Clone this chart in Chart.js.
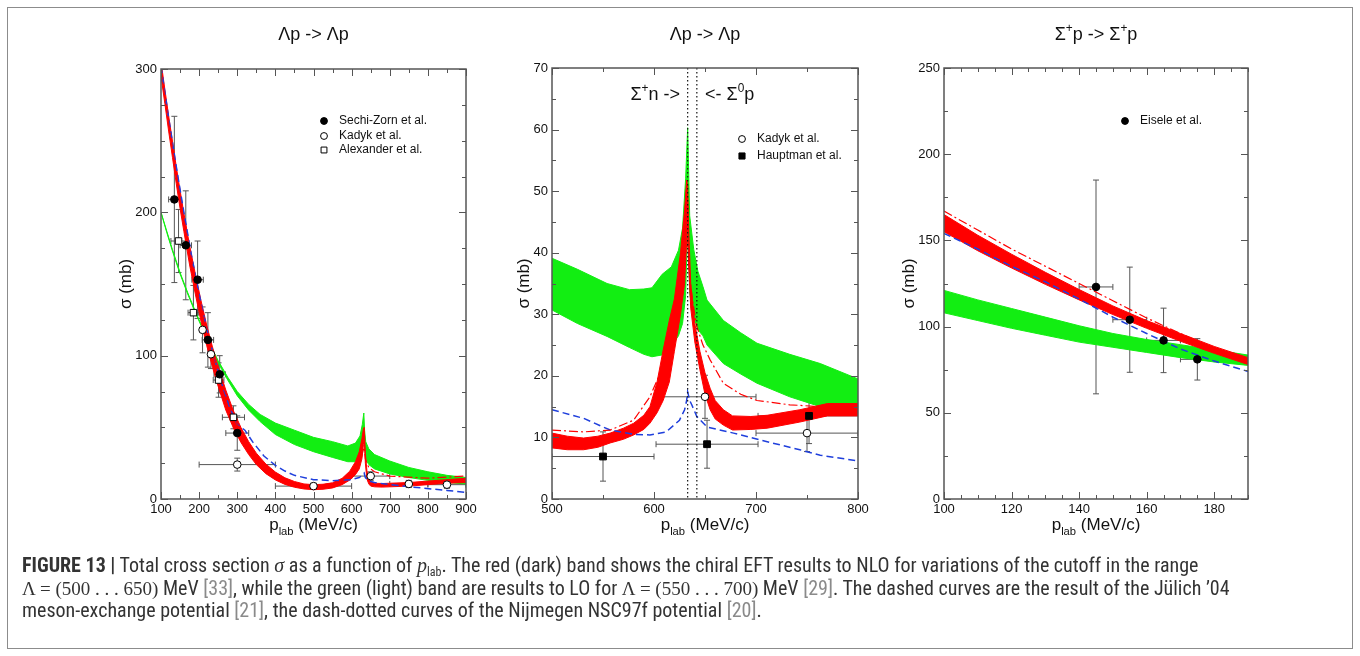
<!DOCTYPE html>
<html>
<head>
<meta charset="utf-8">
<title>Figure 13 - total cross sections</title>
<script src="https://cdn.jsdelivr.net/npm/chart.js@4.4.1/dist/chart.umd.min.js"></script>
<style>
body { margin: 0; background: #fff; }
#fig { position: relative; width: 1360px; height: 656px; overflow: hidden; background: #fff; }
#frame { position: absolute; left: 7px; top: 7px; width: 1346px; height: 642px; border: 1px solid #8c8c8c; box-sizing: border-box; }
canvas { position: absolute; }
#caption { position: absolute; left: 22px; top: 554px; font-family: "Liberation Sans Narrow", "Roboto Condensed", Roboto, sans-serif; font-size: 20px; line-height: 22.5px; color: #333; white-space: nowrap; }
#caption .ref { color: #8a8a8a; }
#caption .m { font-family: "Liberation Serif", "DejaVu Serif", serif; font-size: 19px; line-height: 0; }
#caption .i { font-family: "Liberation Serif", "DejaVu Serif", serif; font-style: italic; line-height: 0; }
#caption sub { font-size: 12px; vertical-align: baseline; position: relative; top: 0.3em; line-height: 0; }
</style>
</head>
<body>
<div id="fig">
  <div id="frame"></div>
  <canvas id="c1"></canvas>
  <canvas id="c2"></canvas>
  <canvas id="c3"></canvas>
  <div id="caption">
    <b>FIGURE 13 |</b> Total cross section <span class="i">σ</span> as a function of <span class="i">p</span><sub>lab</sub>. The red (dark) band shows the chiral EFT results to NLO for variations of the cutoff in the range<br>
    <span class="m">Λ = (500 . . . 650)</span> MeV <span class="ref">[33]</span>, while the green (light) band are results to LO for <span class="m">Λ = (550 . . . 700)</span> MeV <span class="ref">[29]</span>. The dashed curves are the result of the Jülich ’04<br>
    meson-exchange potential <span class="ref">[21]</span>, the dash-dotted curves of the Nijmegen NSC97f potential <span class="ref">[20]</span>.
  </div>
</div>
<script>
// ---------- panel 1 : Λp -> Λp (100-900 MeV/c) ----------
const p1RedX  = [100,110,120,130,140,150,160,175,190,205,220,235,250,270,290,310,330,350,375,400,425,450,475,500,525,550,575,595,610,620,627,631,633,636,640,645,650,660,680,700,750,800,850,900];
const p1RedLo = [294.9,276,256.7,238.4,220,202.7,186.7,163.3,143,123.8,106.9,91.9,78.5,62,49.5,39.3,31,24,17.7,13.3,10.2,8.2,7,6.5,6.8,7.7,10,13.2,17,21,28,38,44,25,14,10.5,9,8.5,8.3,8.5,9,10,11,11.5];
const p1RedHi = [305.2,286,267.4,249.7,232,215.3,199.4,176.8,157,138.3,121.1,106.1,92.5,76,61.5,49.7,40,32,24.4,18.8,14.8,12.2,10.5,10,10.3,11.3,14.4,19.4,26,33,42,49,50,32,20,14,12,11,10.8,11,11.5,12.5,13.5,14.5];

const p1GreenX  = [100,115,130,150,170,190,210,230,250,275,300,330,360,400,450,500,550,590,610,622,628,632,634,637,645,660,700,750,800,850,900];
const p1GreenLo = [200,186,173,157,143,130,118,106,95,83,72,62,54,45,38,33,29,26,26,29,34,45,38,28,24,21,17.5,15,13,11.5,10.5];
const p1GreenHi = [200,187,174,158,144,131,119,107,96.5,85,75,66,59,53,48,43,40,37,39,44,52,60,48,40,35,31,26.5,22,19,16.5,15];

const p1BlueX = [100,120,140,160,180,200,220,240,260,280,300,320,340,370,400,425,450,500,550,600,620,630,633,636,645,660,700,772,850,900];
const p1BlueY = [302,266,232,200,170,143,119,98,80,64,52,48,40,30,23.5,19.5,16.5,13.5,12.8,13.5,15,17,18,15,12.5,11.5,10,8,6,4.5];

const p1DashX = [100,150,200,250,300,350,400,450,500,550,580,600,615,625,630,633,636,645,660,700,800,900];
const p1DashY = [299,209,140,88,52,30,17,11,9,11,14,17,22,28,34,36,28,22,19,16,14.5,16];

const p1SechiX  = [135,165,196,223,254,300];
const p1SechiY  = [209,177,153,111,87,46];
const p1SechiEx = [15,15,15,15,15,30];
const p1SechiEy = [58,38,27,19,13,12];

const p1KadykX  = [209,231,300,500,650,750,850];
const p1KadykY  = [118,101,24,9,16,10.5,10];
const p1KadykEx = [0,0,100,100,50,50,50];
const p1KadykEy = [16,10,4.5,2,3,2.5,2.5];

const p1AlexX  = [146,185,251,290];
const p1AlexY  = [180,130,83,57];
const p1AlexEx = [20,14,14,29];
const p1AlexEy = [22,19,12,8];

// ---------- panel 2 : Λp -> Λp around the ΣN thresholds ----------
const p2GreenX  = [500,525,554,576,590,598,608,617,624,628,631,633,635,639,643,648,652,668,685,701,733,763,800];
const p2GreenLo = [30.7,28.5,26.4,24.6,23.5,23.1,23.4,24.8,26.5,28.5,33,45,33.4,29.5,27.5,26.5,25,22,20.3,18.8,16.6,15,14.5];
const p2GreenHi = [39.1,37.3,35,34,34.1,34.3,36.5,37.7,40.4,44,52,60.3,46,40.5,37,34.5,32.3,29,27,25.3,23.5,22,19.5];

const p2RedX  = [500,515,531,545,557,570,580,590,596,603,609,615,620,626,630,632,633,634,636,640,645,650,655,660,668,677,695,711,743,770,800];
const p2RedLo = [8.3,8.0,8.0,8.4,9.1,9.7,10.4,11.3,12.3,14,16,19,24,30,35,42,45,38,31,25.5,21,17,14.5,13,12,11.2,11.3,11.5,12.5,13.5,13.5];
const p2RedHi = [10.7,10.2,9.9,10.2,10.7,11.5,12.3,13.6,15,19,24.2,29,32.5,40,47,51.8,51,44,35,28.5,24,20.5,18,16,14.5,13.5,13.4,13.6,14.5,15.5,15.5];

const p2BlueX = [500,531,557,580,596,612,625,630,632,633,635,637,642,652,678,711,743,763,800];
const p2BlueY = [14.5,13.1,11.2,10.5,10.4,10.9,12.8,14.5,16,17.4,16,15.3,13.4,11.7,10.7,9.3,8,7.1,6.2];

const p2DashX = [500,531,557,580,596,605,615,622,628,632,633,635,638,642,648,655,668,685,701,733,763,800];
const p2DashY = [11.2,10.9,11.2,12.8,16.6,20,26,31,37,41,42,36,32,28,25,22.6,18.8,17,16,15.3,15,14.8];

const p2Thresholds = [633, 642];   // Σ+n and Σ0p thresholds

const p2KadykX  = [650,750];
const p2KadykY  = [16.6,10.7];
const p2KadykEx = [50,50];
const p2KadykEy = [3.5,3];

const p2HauptX  = [550,652,752];
const p2HauptY  = [6.9,8.9,13.5];
const p2HauptEx = [50,50,50];
const p2HauptEy = [4,3.9,4.5];

// ---------- panel 3 : Σ+p -> Σ+p ----------
const p3X       = [100,110,120,130,140,150,160,170,180,190];
const p3RedLo   = [155,144,134,124.5,115.5,107,99,91.5,84.5,78];
const p3RedHi   = [165,153,142,131.5,121.5,112,103.5,96,88.5,82];
const p3GreenLo = [108,103.5,99,95,91,88,85,82,79.5,77.5];
const p3GreenHi = [121,115.5,110.5,105.5,100.5,96,92.5,89.5,86.5,83.5];
const p3BlueY   = [154,145,135,126,116,105.5,96,87,80,74];
const p3DashY   = [167,156,145,135,125,115,105,96,87,79];

const p3EiseleX  = [145,155,165,175];
const p3EiseleY  = [123,104,92,81];
const p3EiseleEx = [5,5,5,5];
const p3EiseleEy = [62,30.5,18.7,12];

// ---------- drawing ----------
const RED = '#ff0000', GREEN = '#12ee12', BLUE = '#1f3fdc';
const FONT = '"Liberation Sans", Arial, sans-serif';
Chart.defaults.font.family = FONT;

function xy(xs, ys) { return xs.map((x, i) => ({ x: x, y: ys[i] })); }

function richText(ctx, parts, x, y, size, align) {
  // parts: [text, mode]  mode 1 = superscript, -1 = subscript
  const sz = m => (m ? size * 0.66 : size);
  let w = 0;
  parts.forEach(([t, m]) => { ctx.font = sz(m) + 'px ' + FONT; w += ctx.measureText(t).width; });
  let cx = align === 'center' ? x - w / 2 : align === 'right' ? x - w : x;
  ctx.textAlign = 'left';
  ctx.textBaseline = 'alphabetic';
  parts.forEach(([t, m]) => {
    ctx.font = sz(m) + 'px ' + FONT;
    const dy = m === 1 ? -size * 0.45 : m === -1 ? size * 0.28 : 0;
    ctx.fillText(t, cx, y + dy);
    cx += ctx.measureText(t).width;
  });
}

function buildPanel(p) {
  const a = p.area;
  const offX = a.l - 75, offY = 10;
  const w = a.r - a.l + 100, h = 545;
  const cv = document.getElementById(p.id);
  cv.width = w; cv.height = h;
  cv.style.left = offX + 'px'; cv.style.top = offY + 'px';
  cv.style.width = w + 'px'; cv.style.height = h + 'px';

  const ds = [];
  const add = d => { ds.push(d); return ds.length - 1; };
  const edge = (xs, ys, col, order) => ({ data: xy(xs, ys), borderColor: col, borderWidth: 1, pointRadius: 0, fill: false, order: order });
  const gLo = add(edge(p.green[0], p.green[1], GREEN, 5));
  add(Object.assign(edge(p.green[0], p.green[2], GREEN, 5), { fill: gLo, backgroundColor: GREEN }));
  const rLo = add(edge(p.red[0], p.red[1], RED, 4));
  add(Object.assign(edge(p.red[0], p.red[2], RED, 4), { fill: rLo, backgroundColor: RED }));
  add({ data: xy(p.blue[0], p.blue[1]), borderColor: BLUE, borderWidth: 1.5, borderDash: [7, 4], pointRadius: 0, fill: false, order: 3 });
  add({ data: xy(p.dash[0], p.dash[1]), borderColor: RED, borderWidth: 1.2, borderDash: [9, 3, 2, 3], pointRadius: 0, fill: false, order: 2 });
  p.points.forEach(s => add({
    data: xy(s.x, s.y), showLine: false, pointStyle: s.style, pointRadius: s.r,
    pointBackgroundColor: s.fill, pointBorderColor: '#000', pointBorderWidth: 1,
    errX: s.ex, errY: s.ey, order: 1
  }));

  const overlay = {
    id: 'overlay',
    beforeDatasetsDraw(chart) {
      const { ctx, chartArea: ca, scales: { x, y } } = chart;
      ctx.save();
      ctx.beginPath(); ctx.rect(ca.left, ca.top, ca.width, ca.height); ctx.clip();
      ctx.strokeStyle = '#555'; ctx.lineWidth = 1;
      const seg = (x0, y0, x1, y1) => { ctx.beginPath(); ctx.moveTo(x0, y0); ctx.lineTo(x1, y1); ctx.stroke(); };
      chart.data.datasets.forEach(d => {
        if (!d.errY) return;
        d.data.forEach((pt, i) => {
          const cx = x.getPixelForValue(pt.x), cy = y.getPixelForValue(pt.y);
          const ex = d.errX[i], ey = d.errY[i];
          if (ex) {
            const x0 = x.getPixelForValue(pt.x - ex), x1 = x.getPixelForValue(pt.x + ex);
            seg(x0, cy, x1, cy); seg(x0, cy - 3, x0, cy + 3); seg(x1, cy - 3, x1, cy + 3);
          }
          if (ey) {
            const y0 = y.getPixelForValue(pt.y - ey), y1 = y.getPixelForValue(pt.y + ey);
            seg(cx, y0, cx, y1); seg(cx - 3, y0, cx + 3, y0); seg(cx - 3, y1, cx + 3, y1);
          }
        });
      });
      ctx.restore();
    },
    afterDatasetsDraw(chart) {
      const { ctx, chartArea: ca, scales: { x, y } } = chart;
      ctx.save();
      // dotted threshold lines
      (p.vlines || []).forEach(v => {
        const px = x.getPixelForValue(v);
        ctx.strokeStyle = '#111'; ctx.lineWidth = 1.2; ctx.setLineDash([1.5, 2.5]);
        ctx.beginPath(); ctx.moveTo(px, ca.top); ctx.lineTo(px, ca.bottom); ctx.stroke();
      });
      ctx.setLineDash([]);
      // frame
      ctx.strokeStyle = '#555'; ctx.lineWidth = 1.5;
      ctx.strokeRect(ca.left, ca.top, ca.width, ca.height);
      // inward ticks on all four sides
      ctx.lineWidth = 1;
      const [xs, xm] = p.xTicks, [ys, ym] = p.yTicks;
      for (let v = x.min; v <= x.max + 1e-6; v += xs) {
        const px = Math.round(x.getPixelForValue(v)) + 0.5;
        const len = Math.abs(v / xm - Math.round(v / xm)) < 1e-6 ? 7 : 4;
        ctx.beginPath();
        ctx.moveTo(px, ca.bottom); ctx.lineTo(px, ca.bottom - len);
        ctx.moveTo(px, ca.top); ctx.lineTo(px, ca.top + len);
        ctx.stroke();
      }
      for (let v = y.min; v <= y.max + 1e-6; v += ys) {
        const py = Math.round(y.getPixelForValue(v)) + 0.5;
        const len = Math.abs(v / ym - Math.round(v / ym)) < 1e-6 ? 7 : 4;
        ctx.beginPath();
        ctx.moveTo(ca.left, py); ctx.lineTo(ca.left + len, py);
        ctx.moveTo(ca.right, py); ctx.lineTo(ca.right - len, py);
        ctx.stroke();
      }
      ctx.restore();
    },
    afterDraw(chart) {
      const { ctx, chartArea: ca } = chart;
      ctx.save();
      ctx.fillStyle = '#111';
      const midX = (ca.left + ca.right) / 2;
      richText(ctx, p.title, midX, 40 - offY, 18, 'center');
      richText(ctx, [['p', 0], ['lab', -1], [' (MeV/c)', 0]], midX, 530 - offY, 17, 'center');
      ctx.save();
      ctx.translate(ca.left - p.yTitleGap, (ca.top + ca.bottom) / 2);
      ctx.rotate(-Math.PI / 2);
      richText(ctx, [['σ (mb)', 0]], 0, 6, 17, 'center');
      ctx.restore();
      (p.notes || []).forEach(n => richText(ctx, n.parts, n.x - offX, n.y - offY, 18, n.align));
      // legend
      p.legend.forEach(l => {
        const s = p.points[l.i];
        ctx.fillStyle = s.fill; ctx.strokeStyle = '#000'; ctx.lineWidth = 1;
        Chart.helpers.drawPoint(ctx, { pointStyle: s.style, radius: s.r * 0.9, borderWidth: 1, rotation: 0 }, l.x - offX, l.y - offY);
        ctx.fillStyle = '#111';
        ctx.font = '12px ' + FONT; ctx.textAlign = 'left'; ctx.textBaseline = 'middle';
        ctx.fillText(l.text, l.x + 15 - offX, l.y - offY);
      });
      ctx.restore();
    }
  };

  const tickFont = { size: 13, family: FONT };
  return new Chart(cv, {
    type: 'line',
    data: { datasets: ds },
    options: {
      responsive: false, animation: false, events: [], devicePixelRatio: 1,
      layout: { padding: { top: a.t - offY, right: 25, left: 0, bottom: 0 } },
      plugins: { legend: { display: false }, tooltip: { enabled: false }, title: { display: false } },
      scales: {
        x: {
          type: 'linear', min: p.xRange[0], max: p.xRange[1],
          ticks: { stepSize: p.xTicks[1], color: '#111', font: tickFont, padding: 3, maxRotation: 0, autoSkip: false, includeBounds: false },
          grid: { display: false, drawTicks: false }, border: { display: false },
          afterFit(s) { s.height = h - (a.b - offY); }
        },
        y: {
          type: 'linear', min: p.yRange[0], max: p.yRange[1],
          ticks: { stepSize: p.yTicks[1], color: '#111', font: tickFont, padding: 4, autoSkip: false },
          grid: { display: false, drawTicks: false }, border: { display: false },
          afterFit(s) { s.width = 75; }
        }
      }
    },
    plugins: [overlay]
  });
}

buildPanel({
  id: 'c1', area: { l: 161, r: 466, t: 69, b: 499 },
  xRange: [100, 900], yRange: [0, 300], xTicks: [50, 100], yTicks: [25, 100], yTitleGap: 36,
  title: [['Λp -> Λp', 0]],
  red: [p1RedX, p1RedLo, p1RedHi], green: [p1GreenX, p1GreenLo, p1GreenHi],
  blue: [p1BlueX, p1BlueY], dash: [p1DashX, p1DashY],
  points: [
    { x: p1SechiX, y: p1SechiY, ex: p1SechiEx, ey: p1SechiEy, style: 'circle', r: 3.8, fill: '#000' },
    { x: p1KadykX, y: p1KadykY, ex: p1KadykEx, ey: p1KadykEy, style: 'circle', r: 3.8, fill: '#fff' },
    { x: p1AlexX, y: p1AlexY, ex: p1AlexEx, ey: p1AlexEy, style: 'rect', r: 4.6, fill: '#fff' }
  ],
  legend: [
    { i: 0, x: 324, y: 121, text: 'Sechi-Zorn et al.' },
    { i: 1, x: 324, y: 136, text: 'Kadyk et al.' },
    { i: 2, x: 324, y: 150, text: 'Alexander et al.' }
  ]
});

buildPanel({
  id: 'c2', area: { l: 552, r: 858, t: 68, b: 499 },
  xRange: [500, 800], yRange: [0, 70], xTicks: [50, 100], yTicks: [5, 10], yTitleGap: 29,
  title: [['Λp -> Λp', 0]],
  red: [p2RedX, p2RedLo, p2RedHi], green: [p2GreenX, p2GreenLo, p2GreenHi],
  blue: [p2BlueX, p2BlueY], dash: [p2DashX, p2DashY],
  vlines: p2Thresholds,
  notes: [
    { parts: [['Σ', 0], ['+', 1], ['n ->', 0]], x: 680, y: 100, align: 'right' },
    { parts: [['<- Σ', 0], ['0', 1], ['p', 0]], x: 705, y: 100, align: 'left' }
  ],
  points: [
    { x: p2KadykX, y: p2KadykY, ex: p2KadykEx, ey: p2KadykEy, style: 'circle', r: 3.8, fill: '#fff' },
    { x: p2HauptX, y: p2HauptY, ex: p2HauptEx, ey: p2HauptEy, style: 'rect', r: 4.8, fill: '#000' }
  ],
  legend: [
    { i: 0, x: 742, y: 139, text: 'Kadyk et al.' },
    { i: 1, x: 742, y: 156, text: 'Hauptman et al.' }
  ]
});

buildPanel({
  id: 'c3', area: { l: 944, r: 1248, t: 68, b: 499 },
  xRange: [100, 190], yRange: [0, 250], xTicks: [5, 20], yTicks: [25, 50], yTitleGap: 36,
  title: [['Σ', 0], ['+', 1], ['p -> Σ', 0], ['+', 1], ['p', 0]],
  red: [p3X, p3RedLo, p3RedHi], green: [p3X, p3GreenLo, p3GreenHi],
  blue: [p3X, p3BlueY], dash: [p3X, p3DashY],
  points: [
    { x: p3EiseleX, y: p3EiseleY, ex: p3EiseleEx, ey: p3EiseleEy, style: 'circle', r: 3.8, fill: '#000' }
  ],
  legend: [
    { i: 0, x: 1125, y: 121, text: 'Eisele et al.' }
  ]
});
</script>
</body>
</html>
